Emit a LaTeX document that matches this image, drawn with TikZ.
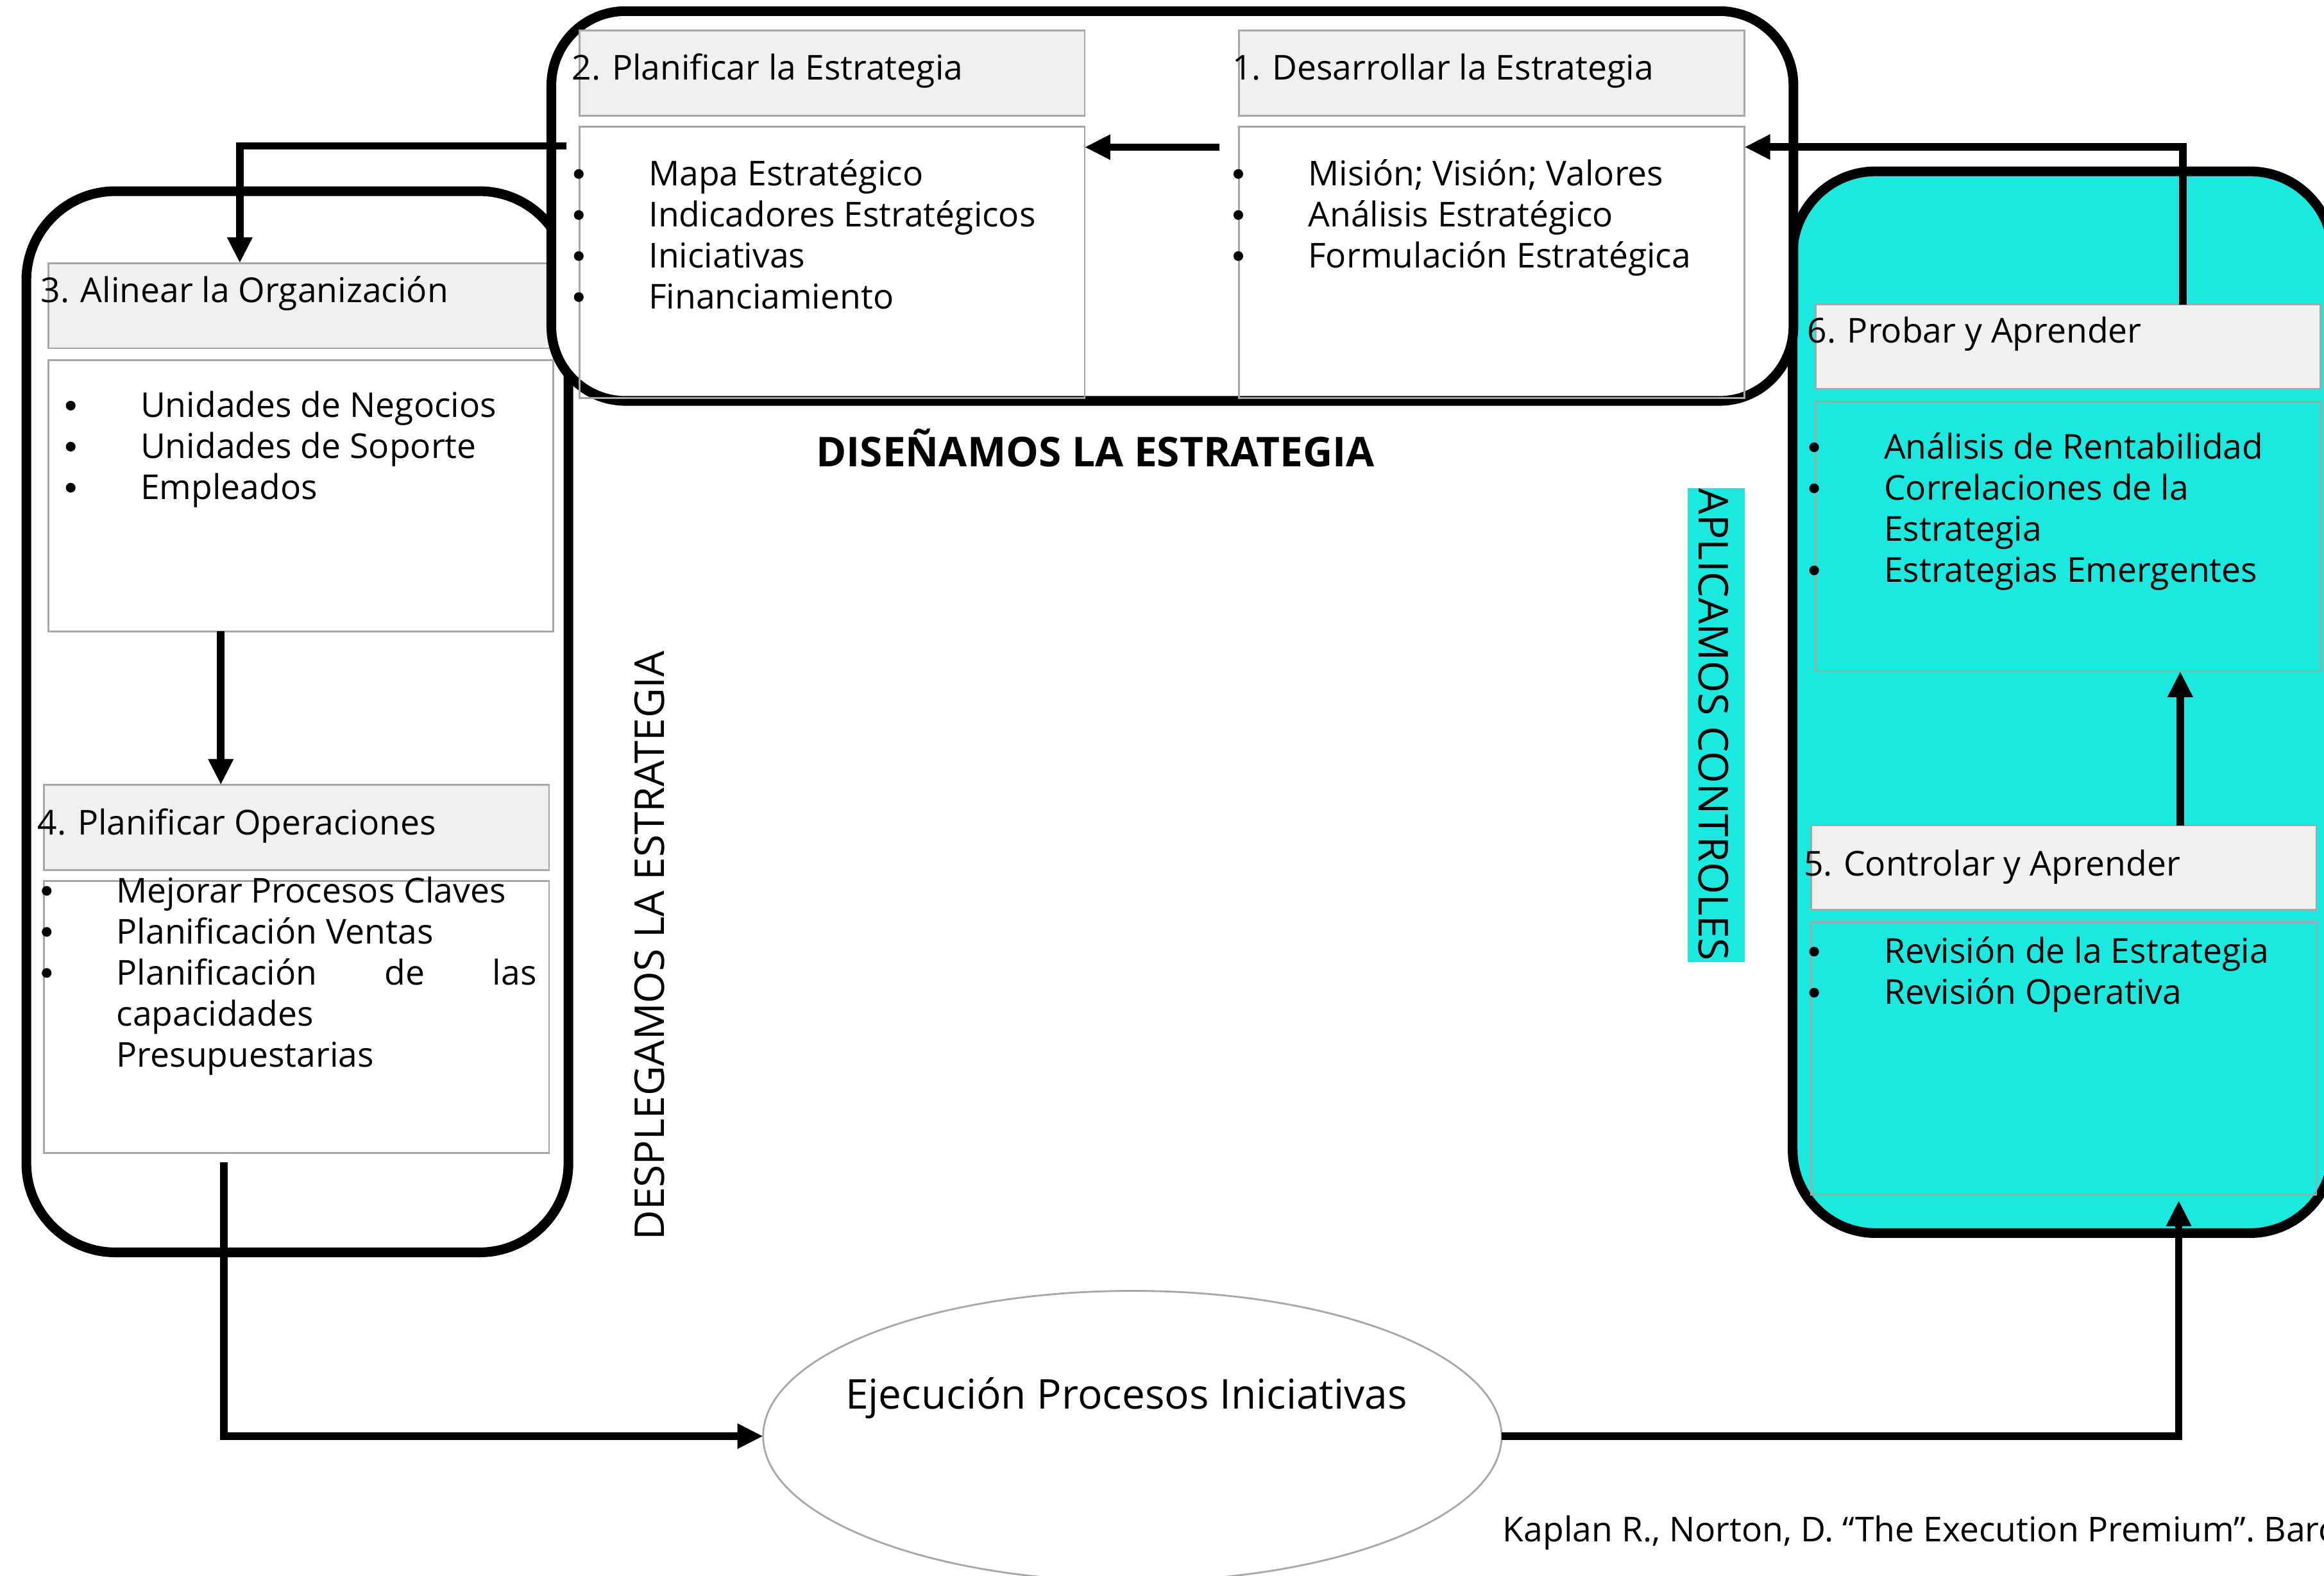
\documentclass[tikz,border=0pt]{standalone}
\usepackage{fontspec}
\setmainfont{Open Sans}
\usetikzlibrary{arrows.meta,shapes.geometric,fit}
\definecolor{cyanfill}{RGB}{27,232,222}
\definecolor{hdrfill}{RGB}{240,240,240}
\definecolor{boxline}{RGB}{166,166,166}
\newcommand{\bdot}{\hspace*{0.67pt}\tikz[baseline=0pt]\fill[black] (0pt,5.2pt) circle[radius=2.15pt];}
\newcommand{\bitem}[1]{\makebox[33.8pt][l]{\bdot}#1}
\newcommand{\bcont}[1]{\hspace*{33.8pt}#1}
\newcommand{\numsp}{\hspace*{1pt}}
\frenchspacing
\begin{document}
\frenchspacing
\begin{tikzpicture}[x=0.023106cm, y=-0.023106cm,
  frame/.style={draw=black, line width=4.3pt, inner sep=0pt, outer sep=0pt},
  hdr/.style={draw=boxline, fill=hdrfill, line width=0.8pt, inner sep=0pt, outer sep=0pt},
  bodybox/.style={draw=boxline, line width=0.8pt, inner sep=0pt, outer sep=0pt},
  txt/.style={inner sep=0pt, outer sep=0pt, anchor=base west, font=\fontsize{15.2}{18.2}\selectfont},
  big/.style={inner sep=0pt, outer sep=0pt, font=\fontsize{18.2}{22}\selectfont},
  arr/.style={line width=3.3pt, -{Triangle[length=11.4pt,width=10.5pt]}}]
\useasboundingbox (0,0) rectangle (1568,1063.35);
\fill[white] (0,0) rectangle (1568,1063.35);
\clip (0,0) rectangle (1568,1063.35);

% control frame (cyan)
\node[frame, fill=cyanfill, rounded corners=1.294cm, fit={(1209.5,115.6)(1574,832)}] (ctrl) {};
% deploy frame
\node[frame, rounded corners=1.386cm, fit={(17.8,129)(383.5,845)}] (deploy) {};
\node[hdr, fit={(32.5,177.5)(373.4,235)}] (h3) {};
\node[bodybox, fit={(32.5,243)(373.4,426)}] (b3) {};
\node[hdr, fit={(29.8,529.5)(370.5,587)}] (h4) {};
\node[bodybox, fit={(29.8,594.6)(370.5,778)}] (b4) {};
% design frame
\node[frame, fill=white, rounded corners=1.155cm, fit={(372,7.5)(1210,270.5)}] (design) {};
\node[hdr, fit={(391,20.4)(731.8,78)}] (h2) {};
\node[bodybox, fit={(391,85.6)(731.8,268.7)}] (b2) {};
\node[hdr, fit={(836,20.4)(1177,78)}] (h1) {};
\node[bodybox, fit={(836,85.6)(1177,268.7)}] (b1) {};
% control boxes
\node[hdr, fit={(1225,205.4)(1565.6,262.3)}] (h6) {};
\node[bodybox, fit={(1225,271)(1565.6,453)}] (b6) {};
\node[hdr, fit={(1222,557)(1562.8,614)}] (h5) {};
\node[bodybox, fit={(1222,622)(1562.8,806)}] (b5) {};

% execution ellipse
\node[ellipse, draw=boxline, line width=0.8pt, inner sep=0pt, outer sep=0pt,
      minimum width=11.511cm, minimum height=4.529cm] (exec) at (764,969) {};

% header texts
\node[txt] (h2t) at (386,53.8) {2.\numsp{} Planificar la Estrategia};
\node[txt] (h1t) at (831.5,53.8) {1.\numsp{} Desarrollar la Estrategia};
\node[txt] (h3t) at (27.5,204) {3.\numsp{} Alinear la Organización};
\node[txt] (h4t) at (25.5,563.2) {4.\numsp{} Planificar Operaciones};
\node[txt] (h6t) at (1219.5,231.5) {6.\numsp{} Probar y Aprender};
\node[txt] (h5t) at (1217,591) {5.\numsp{} Controlar y Aprender};

% lists
\node[txt] (l2) at (386.2,125.3) {\begin{tabular}[t]{@{}l@{}}
  \bitem{Mapa Estratégico}\\ \bitem{Indicadores Estratégicos}\\ \bitem{Iniciativas}\\ \bitem{Financiamiento}\end{tabular}};
\node[txt] (l1) at (831.2,125.3) {\begin{tabular}[t]{@{}l@{}}
  \bitem{Misión; Visión; Valores}\\ \bitem{Análisis Estratégico}\\ \bitem{Formulación Estratégica}\end{tabular}};
\node[txt] (l3) at (43.4,281.6) {\begin{tabular}[t]{@{}l@{}}
  \bitem{Unidades de Negocios}\\ \bitem{Unidades de Soporte}\\ \bitem{Empleados}\end{tabular}};
\node[txt] (l4) at (27.2,609) {\begin{tabular}[t]{@{}l@{}}
  \bitem{Mejorar Procesos Claves}\\ \bitem{Planificación Ventas}\\
  \bitem{\hbox to 186.3pt{Planificación\hfill de\hfill las}}\\
  \bcont{capacidades}\\ \bcont{Presupuestarias}\end{tabular}};
\node[txt] (l6) at (1219.7,309.7) {\begin{tabular}[t]{@{}l@{}}
  \bitem{Análisis de Rentabilidad}\\ \bitem{Correlaciones de la}\\ \bcont{Estrategia}\\ \bitem{Estrategias Emergentes}\end{tabular}};
\node[txt] (l5) at (1219.7,650) {\begin{tabular}[t]{@{}l@{}}
  \bitem{Revisión de la Estrategia}\\ \bitem{Revisión Operativa}\end{tabular}};

% stage labels
\node[inner sep=0pt, anchor=base, font=\bfseries\fontsize{18.2}{22}\selectfont] (dis) at (739,314.9) {DISEÑAMOS LA ESTRATEGIA};
\node[big, rotate=90] (des) at (438.2,638) {DESPLEGAMOS LA ESTRATEGIA};
\node[fill=cyanfill, inner sep=0pt, outer sep=0pt, fit={(1138.5,329.5)(1177,649.2)}] (aplbox) {};
\node[big, rotate=-90] (apl) at (1156,489) {APLICAMOS CONTROLES};

\node[big, anchor=base west] (exect) at (570.5,950.7) {Ejecución Procesos Iniciativas};
\node[txt] (ref) at (1014,1040) {Kaplan R., Norton, D. “The Execution Premium”. Barcelona};

% connectors
\coordinate (a1s) at (822.8,99.3);
\draw[arr] (a1s) -- (b2.east |- a1s);
\draw[arr] (1472.7,0 |- h6.north) |- (b1.east |- 0,99.2);
\coordinate (a3s) at (382,98.5);
\draw[arr] (a3s) -| (161.8,0 |- h3.north);
\draw[arr] (149,0 |- b3.south) -- (149,0 |- h4.north);
\coordinate (a5s) at (151,784);
\draw[arr] (a5s) |- (exec.west);
\coordinate (a6e) at (1470,810);
\draw[arr] (exec.east) -| (a6e);
\draw[arr] (1471,0 |- h5.north) -- (1471,0 |- b6.south);
\end{tikzpicture}
\end{document}
